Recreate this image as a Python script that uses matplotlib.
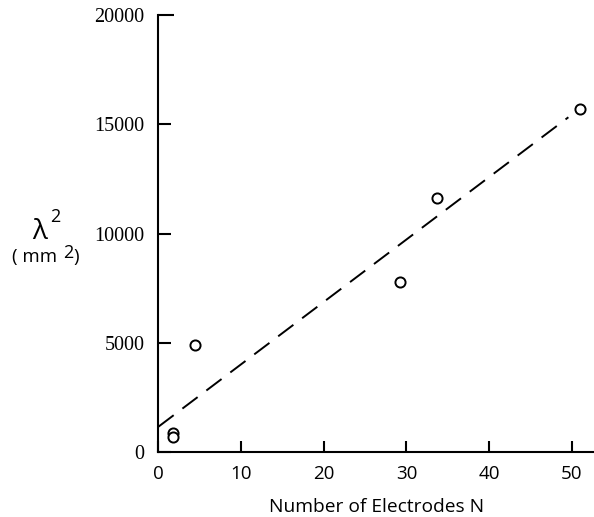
import numpy as np
import matplotlib.pyplot as plt

plt.rcParams["lines.scale_dashes"] = False

# measured points
electrodes_n = [1.8, 1.8, 4.4, 29.2, 33.7, 51.0]
lambda_sq = [880, 670, 4910, 7770, 11610, 15690]

# dashed fit line, end points
fit_n = [0, 49.6]
fit_lambda_sq = [1160, 15320]

x_ticks = [0, 10, 20, 30, 40, 50]
y_ticks = [0, 5000, 10000, 15000, 20000]

fig = plt.figure(figsize=(5.94, 5.17), dpi=100)
ax = fig.add_axes([0.2668, 0.1257, 0.7332, 0.8453])

ax.plot(fit_n, fit_lambda_sq, color="black", lw=1.4, dashes=(13.7, 7.9))
ax.plot(electrodes_n, lambda_sq, "o", markersize=7.3, markerfacecolor="white",
        markeredgecolor="black", markeredgewidth=1.4, clip_on=False, zorder=3)

ax.set_xlim(0, 52.7)
ax.set_ylim(0, 20000)
ax.set_xticks(x_ticks)
ax.set_yticks(y_ticks)
ax.set_xticklabels([str(v) for v in x_ticks], family="Open Sans", fontsize=13.5)
ax.set_yticklabels([str(v) for v in y_ticks], family="Liberation Serif", fontsize=14.5)

for side in ["top", "right"]:
    ax.spines[side].set_visible(False)
for side in ["left", "bottom"]:
    ax.spines[side].set_linewidth(1.5)

ax.tick_params(axis="y", direction="in", length=9.5, width=1.5, pad=10)
ax.tick_params(axis="x", direction="in", length=8, width=1.5, pad=9)
ax.yaxis.get_major_ticks()[-1].tick1line.set_markersize(11.5)

ax.set_xlabel("Number of Electrodes N", family="Open Sans", fontsize=13.8, labelpad=11)

# y label drawn by hand: lambda squared over (mm 2)
fig.text(0.055, 0.552, "λ", family="Open Sans", fontsize=20, ha="left", va="center")
fig.text(0.085, 0.580, "2", family="Open Sans", fontsize=13, ha="left", va="center")
fig.text(0.020, 0.503, "( mm", family="Open Sans", fontsize=13.5, ha="left", va="center")
fig.text(0.106, 0.511, "2", family="Open Sans", fontsize=13, ha="left", va="center")
fig.text(0.124, 0.503, ")", family="Open Sans", fontsize=13.5, ha="left", va="center")

fig.savefig("out.png", dpi=100)
